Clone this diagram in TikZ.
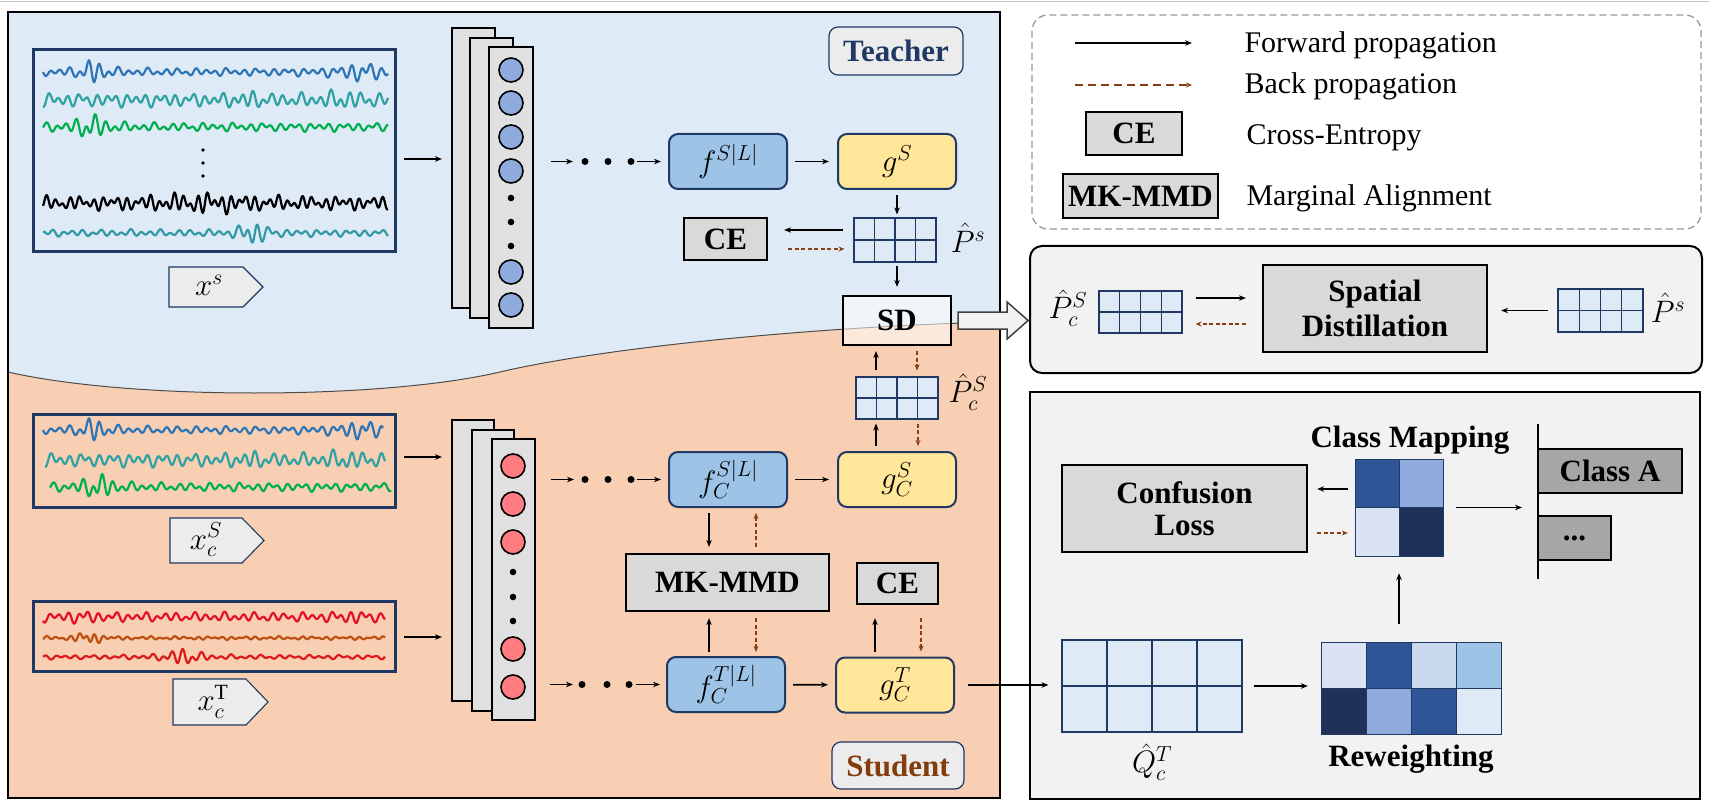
\RequirePackage{fix-cm}
\documentclass[tikz,border=0pt]{standalone}
\usepackage{fontspec}
\setmainfont{Liberation Serif}
\usetikzlibrary{arrows.meta,calc}
\definecolor{navy}{HTML}{1F3864}
\definecolor{tblue}{HTML}{DEEAF6}
\definecolor{peach}{HTML}{F8CFB2}
\definecolor{fblue}{HTML}{9DC3E6}
\definecolor{gyel}{HTML}{FFE699}
\definecolor{boxgray}{HTML}{D9D9D9}
\definecolor{stackgray}{HTML}{E0E0E0}
\definecolor{labgray}{HTML}{ECECEC}
\definecolor{panelgray}{HTML}{F2F2F2}
\definecolor{cellblue}{HTML}{DEEBF7}
\definecolor{bkbrown}{HTML}{8B3E0F}
\definecolor{studbrown}{HTML}{843C0C}
\definecolor{sigblue}{HTML}{2E75B6}
\definecolor{sigteal}{HTML}{2FA3A3}
\definecolor{siggreen}{HTML}{00B050}
\definecolor{sigteal2}{HTML}{3399A6}
\definecolor{sigred}{HTML}{E3122A}
\definecolor{sigbrown}{HTML}{C0500F}
\definecolor{sigredb}{HTML}{DC1C1C}
\definecolor{cteach}{HTML}{8FAADC}
\definecolor{cstud}{HTML}{FF7C80}
\definecolor{mA}{HTML}{2F5597}
\definecolor{mB}{HTML}{8FAADC}
\definecolor{mC}{HTML}{DAE3F3}
\definecolor{mD}{HTML}{1F3059}
\definecolor{mE}{HTML}{CAD8EE}
\definecolor{mF}{HTML}{9DC3E6}
\definecolor{clsgray}{HTML}{A6A6A6}
\newcommand\bft{\fontsize{31}{35}\selectfont\bfseries}
\newcommand\lgt{\fontsize{30}{34}\selectfont}
\newcommand\mt{\fontsize{31}{36}\selectfont}
\newcommand\sig[6]{\draw[#1, line width=2.2pt, line join=round] plot[domain=0:#3, samples=340] ({#2+\x}, {#4+(#5)*wv(\x,#6)});}
\newcommand\sigb[6]{\draw[#1, line width=2.2pt, line join=round] plot[domain=0:#3, samples=400] ({#2+\x}, {#4+(#5)*wvb(\x,#6)});}
\tikzset{
  fw/.style={-{Stealth[length=7pt,width=5.5pt]}, line width=1.6pt, draw=black},
  bw/.style={-{Stealth[length=6pt,width=5pt]}, line width=1.4pt, draw=bkbrown, dash pattern=on 4pt off 2.5pt},
  fbox/.style={draw=navy, line width=2pt, rounded corners=9pt, fill=fblue, minimum width=118pt, minimum height=55pt, inner sep=0pt, font=\mt},
  gbox/.style={fbox, fill=gyel},
  lbox/.style={draw=black, line width=2.2pt, fill=boxgray, inner sep=0pt, font=\bft},
  sigbox/.style={draw=navy, line width=3pt, inner sep=0pt, minimum width=362pt},
  stk/.style={draw=black, line width=2pt, fill=stackgray, inner sep=0pt},
  tc/.style={circle, draw=black, line width=1.6pt, fill=cteach, minimum size=24pt, inner sep=0pt},
  sc/.style={tc, fill=cstud},
  tagbox/.style={draw=navy, line width=1.2pt, fill=labgray, rounded corners=9pt, inner sep=0pt, font=\bft},
  lab/.style={draw=navy, line width=1.1pt, fill=labgray},
  gridn/.style={draw=navy, line width=1.1pt, fill=cellblue, inner sep=0pt,
    path picture={
      \foreach \k in {1,2,3}
        \draw[navy, line width=1.1pt] ($(path picture bounding box.north west)!\k/4!(path picture bounding box.north east)$) -- ($(path picture bounding box.south west)!\k/4!(path picture bounding box.south east)$);
      \draw[navy, line width=1.1pt] (path picture bounding box.west) -- (path picture bounding box.east);
    }},
  cellln/.style={draw=navy, line width=1pt}
}
\begin{document}
\begin{tikzpicture}[x=1pt,y=-1pt,
  declare function={B(\t,\c,\w)=1/(1+((\t-\c)/\w)*((\t-\c)/\w));
                    wv(\t,\p)=0.5*sin(37*\t+\p)+0.3*sin(23*\t+1.7*\p)+0.2*sin(13*\t+2.3*\p);
                    wvb(\t,\p)=0.45*sin(45*\t+\p)+0.35*sin(31*\t+1.7*\p)+0.2*sin(11*\t+2.3*\p);}]
\useasboundingbox (0,0) rectangle (1709,805);
\fill[white] (0,0) rectangle (1709,805);
\draw[black!22, line width=1.5pt] (0,1.5) -- (1709,1.5);

% ---------------- left panel background ----------------
\fill[peach] (8,12) rectangle (1000,798);
\fill[tblue] (8,12) -- (8,372) .. controls (130,400) and (380,400) .. (500,372)
   .. controls (620,344) and (850,325) .. (1000,322) -- (1000,12) -- cycle;
\draw[black!70, line width=1pt] (8,372) .. controls (130,400) and (380,400) .. (500,372)
   .. controls (620,344) and (850,325) .. (1000,322);
\draw[black, line width=2.4pt] (8,12) rectangle (1000,798);

% ---------------- signal boxes ----------------
\node[sigbox, minimum height=202pt] (sigT) at (214,151) {};
\sig{sigblue}{43}{345}{72}{4.5+12*B(\x,50,16)^2+8*B(\x,318,28)^2}{0}
\sig{sigteal}{43}{345}{100}{8+4*B(\x,205,15)^2+5*B(\x,300,22)^2}{60}
\sig{siggreen}{43}{345}{127}{5+12*B(\x,48,20)^2}{120}
\fill[black] (203,150) circle (1.9) (203,163) circle (1.9) (203,176) circle (1.9);
\sigb{black}{43}{345}{203}{8+5*B(\x,160,60)^2}{100}
\sig{sigteal2}{43}{345}{233}{4+14*B(\x,210,16)^2}{250}

\node[sigbox, minimum height=93pt] (sigS) at (214,460.5) {};
\sig{sigblue}{43}{340}{430}{4.5+12*B(\x,50,16)^2+8*B(\x,318,28)^2}{0}
\sig{sigteal}{45}{340}{460}{8+4*B(\x,205,15)^2+5*B(\x,300,22)^2}{60}
\sig{siggreen}{50}{341}{487}{5+12*B(\x,48,20)^2}{120}

\node[sigbox, minimum height=70pt] (sigTT) at (214,636) {};
\sig{sigred}{43}{342}{617}{5.5+3*B(\x,40,20)^2+3*B(\x,310,20)^2}{30}
\sigb{sigbrown}{43}{342}{638}{2+8*B(\x,45,14)^2}{90}
\sig{sigredb}{43}{342}{657}{2.5+9*B(\x,140,22)^2}{150}

% input labels
\draw[lab] (169,267) -- (243,267) -- (263,287) -- (243,307) -- (169,307) -- cycle;
\node[font=\mt] (lxs) at (209,285) {$x^s$};
\draw[lab] (170,518) -- (242,518) -- (264,540.5) -- (242,563) -- (170,563) -- cycle;
\node[font=\mt] (lxcs) at (206,540) {$x_c^S$};
\draw[lab] (173,679) -- (246,679) -- (268,702) -- (246,725) -- (173,725) -- cycle;
\node[font=\mt] (lxct) at (213,702) {$x_c^{\mathrm{T}}$};

% ---------------- layer stacks ----------------
\node[stk, minimum width=43pt, minimum height=280pt] (stT1) at (473.5,168) {};
\node[stk, minimum width=43pt, minimum height=280pt] (stT2) at (491.5,178) {};
\node[stk, minimum width=44pt, minimum height=281pt] (stT3) at (511,187.5) {};
\foreach \yy/\nm in {70/a,103/b,137/c,171/d,272/e,305/f} \node[tc] (cT\nm) at (511,\yy) {};
\fill[black] (511,198) circle (3.3) (511,222) circle (3.3) (511,246) circle (3.3);

\node[stk, minimum width=42pt, minimum height=281pt] (stS1) at (473,560.5) {};
\node[stk, minimum width=42pt, minimum height=281pt] (stS2) at (493,570.5) {};
\node[stk, minimum width=43pt, minimum height=281pt] (stS3) at (513.5,579.5) {};
\foreach \yy/\nm in {466/a,504/b,542/c,649/d,687/e} \node[sc] (cS\nm) at (513,\yy) {};
\fill[black] (513,572) circle (3.3) (513,597) circle (3.3) (513,621) circle (3.3);

\draw[fw, shorten <=7pt, shorten >=9pt] (sigT.east |- 0,159) -- (stT1.west |- 0,159);
\draw[fw, shorten <=7pt, shorten >=9pt] (sigS.east |- 0,457) -- (stS1.west |- 0,457);
\draw[fw, shorten <=7pt, shorten >=9pt] (sigTT.east |- 0,637) -- (stS1.west |- 0,637);

% ---------------- teacher branch ----------------
\node[fbox] (fS) at (728,161.5) {$f^{S|L|}$};
\node[gbox] (gS) at (897,161.5) {$g^{S}$};
\node[gridn, minimum width=82pt, minimum height=44pt] (PsT) at (895,240) {};
\node[font=\mt] (lPsT) at (968,238) {$\hat P^{s}$};
\node[lbox, minimum width=83pt, minimum height=42pt] (CE1) at (725.5,239) {CE};
\node[lbox, fill=white, fill opacity=0.55, text opacity=1, minimum width=108pt, minimum height=49pt] (SD) at (897,320.5) {SD};
\node[tagbox, minimum width=134pt, minimum height=48pt, text=navy] (teach) at (896,51) {Teacher};

\draw[fw] ($(stT3.east |- fS.west)+(17,0)$) -- ++(22,0);
\foreach \dx in {51,74,97} \fill[black] ($(stT3.east |- fS.west)+(\dx,0)$) circle (3.5);
\draw[fw] ($(fS.west)+(-31,0)$) -- ($(fS.west)+(-7,0)$);
\draw[fw, shorten <=7pt, shorten >=8pt] (fS) -- (gS);
\draw[fw, shorten <=5pt, shorten >=3pt] (gS.south) -- (gS.south |- PsT.north);
\draw[fw] ($(PsT.west)+(-10,-10)$) -- ($(CE1.east)+(16,-9)$);
\draw[bw] ($(CE1.east)+(20,10)$) -- ($(PsT.west)+(-9,9)$);
\draw[fw, shorten <=3pt, shorten >=8pt] (gS.south |- PsT.south) -- (gS.south |- SD.north);
\draw[draw=black!75, fill=panelgray, line width=1.5pt, shift={(SD.east)}] (6,-8.5) -- (55,-8.5) -- (55,-18.5) -- (76,0) -- (55,18.5) -- (55,8.5) -- (6,8.5) -- cycle;

% ---------------- student branch ----------------
\node[gridn, minimum width=82pt, minimum height=42pt] (PcS) at (897,398) {};
\node[font=\mt] (lPcS) at (968,392) {$\hat P_c^{S}$};
\node[fbox] (fcS) at (728,479.5) {$f_C^{S|L|}$};
\node[gbox] (gcS) at (897,479.5) {$g_C^{S}$};
\node[lbox, minimum width=203pt, minimum height=57pt] (MK) at (727.5,582.5) {MK-MMD};
\node[lbox, minimum width=81pt, minimum height=41pt] (CE2) at (897.5,583.5) {CE};
\node[fbox] (fcT) at (726,684.5) {$f_C^{T|L|}$};
\node[gbox] (gcT) at (895,685) {$g_C^{T}$};
\node[tagbox, minimum width=132pt, minimum height=47pt, text=studbrown] (stud) at (898,765.5) {Student};

\draw[fw, shorten <=6pt, shorten >=5pt] ($(PcS.north)+(-21,0)$) -- ($(SD.south)+(-21,0)$);
\draw[bw, shorten <=5pt, shorten >=6pt] ($(SD.south)+(20,0)$) -- ($(PcS.north)+(20,0)$);
\draw[fw, shorten <=5pt, shorten >=4pt] ($(gcS.north)+(-21,0)$) -- ($(PcS.south)+(-21,0)$);
\draw[bw, shorten <=4pt, shorten >=5pt] ($(PcS.south)+(21,0)$) -- ($(gcS.north)+(21,0)$);

\draw[fw] ($(stS3.east |- fcS.west)+(15,0)$) -- ++(23,0);
\foreach \dx in {49,72,95} \fill[black] ($(stS3.east |- fcS.west)+(\dx,0)$) circle (3.5);
\draw[fw] ($(fcS.west)+(-31,0)$) -- ($(fcS.west)+(-7,0)$);
\draw[fw, shorten <=7pt, shorten >=8pt] (fcS) -- (gcS);

\draw[fw] ($(stS3.east |- fcT.west)+(14,0)$) -- ++(23,0);
\foreach \dx in {46,71,93} \fill[black] ($(stS3.east |- fcT.west)+(\dx,0)$) circle (3.5);
\draw[fw] ($(fcT.west)+(-30,0)$) -- ($(fcT.west)+(-6,0)$);
\draw[fw, shorten <=7pt, shorten >=7pt] (fcT) -- (gcT);

\draw[fw, shorten <=5pt, shorten >=6pt] ($(fcS.south)+(-19,0)$) -- ($(MK.north)+(-18.5,0)$);
\draw[bw, shorten <=6pt, shorten >=5pt] ($(MK.north)+(28.5,0)$) -- ($(fcS.south)+(28,0)$);
\draw[fw, shorten <=4pt, shorten >=6pt] ($(fcT.north)+(-17,0)$) -- ($(MK.south)+(-18.5,0)$);
\draw[bw, shorten <=6pt, shorten >=4pt] ($(MK.south)+(28.5,0)$) -- ($(fcT.north)+(30,0)$);
\draw[fw, shorten <=5pt, shorten >=13pt] ($(gcT.north)+(-20,0)$) -- ($(CE2.south)+(-22.5,0)$);
\draw[bw, shorten <=13pt, shorten >=5pt] ($(CE2.south)+(23.5,0)$) -- ($(gcT.north)+(26,0)$);

% ---------------- legend ----------------
\draw[black!40, line width=1.3pt, dash pattern=on 7pt off 4pt, rounded corners=16pt] (1032,15) rectangle (1701,229);
\coordinate (lf1) at (1075,43); \coordinate (lf2) at (1192,43);
\coordinate (lb1) at (1075,85); \coordinate (lb2) at (1192,85);
\draw[fw] (lf1) -- (lf2);
\draw[bw, line width=2pt, dash pattern=on 8pt off 5pt] (lb1) -- (lb2);
\node[anchor=base west, font=\lgt] (t1) at (1241,53) {Forward propagation};
\node[anchor=base west, font=\lgt] (t2) at (1241,94) {Back propagation};
\node[lbox, minimum width=96pt, minimum height=43pt] (lCE) at (1134,133.5) {CE};
\node[anchor=base west, font=\lgt] (t3) at (1243,145) {Cross-Entropy};
\node[lbox, minimum width=155pt, minimum height=44pt] (lMK) at (1140.5,196) {MK-MMD};
\node[anchor=base west, font=\lgt] (t4) at (1243,206) {Marginal Alignment};

% ---------------- spatial distillation panel ----------------
\draw[black, fill=panelgray, line width=2pt, rounded corners=12pt] (1030,246) rectangle (1702,373);
\node[gridn, minimum width=83pt, minimum height=42pt] (PcS2) at (1140.5,312) {};
\node[font=\mt] (lPcS2) at (1068,308) {$\hat P_c^{S}$};
\node[lbox, minimum width=224pt, minimum height=87pt, align=center] (SpD) at (1375,308.5) {Spatial\\Distillation};
\node[gridn, minimum width=85pt, minimum height=43pt] (Ps2) at (1600.5,310.5) {};
\node[font=\mt] (lPs2) at (1668,308) {$\hat P^{s}$};
\draw[fw] ($(PcS2.east)+(13,-14)$) -- ($(SpD.west)+(-16,-10.5)$);
\draw[bw] ($(SpD.west)+(-16,15.5)$) -- ($(PcS2.east)+(13,12)$);
\draw[fw, shorten <=9pt, shorten >=13pt] (Ps2.west) -- (Ps2.west -| SpD.east);

% ---------------- class mapping panel ----------------
\draw[black, fill=panelgray, line width=2pt] (1030,392) rectangle (1700,799);
\node[lbox, minimum width=245pt, minimum height=87pt, align=center] (Conf) at (1184.5,508.5) {Confusion\\[-3pt]Loss};
\node[anchor=base, font=\bft] (tCM) at (1410,447) {Class Mapping};
\node[inner sep=0pt, minimum width=88pt, minimum height=97pt] (CM) at (1399,507.5) {};
\fill[mA] (1355,459) rectangle (1399,507.5);
\fill[mB] (1399,459) rectangle (1443,507.5);
\fill[mC] (1355,507.5) rectangle (1399,556);
\fill[mD] (1399,507.5) rectangle (1443,556);
\draw[cellln] (1355,459) rectangle (1443,556) (1399,459) -- (1399,556) (1355,507.5) -- (1443,507.5);

\node[gridn, minimum width=180pt, minimum height=92pt] (Q) at (1152,686) {};
\node[font=\mt] (lQ) at (1152,762) {$\hat Q_c^{T}$};
\node[inner sep=0pt, minimum width=180pt, minimum height=92pt] (RW) at (1411,688) {};
\fill[mC] (1321,642) rectangle (1366,688);
\fill[mA] (1366,642) rectangle (1411,688);
\fill[mE] (1411,642) rectangle (1456,688);
\fill[mF] (1456,642) rectangle (1501,688);
\fill[mD] (1321,688) rectangle (1366,734);
\fill[mB] (1366,688) rectangle (1411,734);
\fill[mA] (1411,688) rectangle (1456,734);
\fill[cellblue] (1456,688) rectangle (1501,734);
\draw[cellln] (1321,642) rectangle (1501,734) (1366,642) -- (1366,734) (1411,642) -- (1411,734) (1456,642) -- (1456,734) (1321,688) -- (1501,688);
\node[anchor=base, font=\bft] (tRW) at (1411,766) {Reweighting};

\coordinate (vtop) at (1538,424); \coordinate (vbot) at (1538,579);
\node[lbox, fill=clsgray, minimum width=144pt, minimum height=44pt] (clA) at (1610,471) {Class A};
\node[lbox, fill=clsgray, minimum width=73pt, minimum height=44pt] (clD) at (1574.5,538) {...};
\draw[black, line width=2.2pt] (vtop) -- (vbot);

\draw[fw, shorten <=13pt, shorten >=13pt] (gcT.east) -- (gcT.east -| Q.west);
\draw[fw, shorten <=11pt, shorten >=13pt] (Q.east) -- (Q.east -| RW.west);
\draw[fw, shorten <=18pt, shorten >=17pt] (RW.north -| CM.south) -- (CM.south);
\draw[fw] ($(CM.west)+(-7,-18.5)$) -- ($(Conf.east)+(9,-19.5)$);
\draw[bw] ($(Conf.east)+(9,24.5)$) -- ($(CM.west)+(-7,25.5)$);
\draw[fw, shorten <=13pt, shorten >=16pt] (CM.east) -- (CM.east -| vtop);
\end{tikzpicture}
\end{document}
